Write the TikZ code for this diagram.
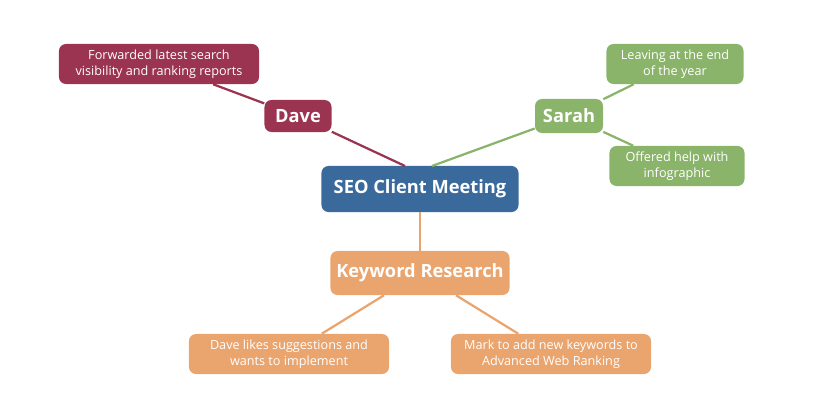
\documentclass[tikz,border=0pt]{standalone}
\usepackage{fontspec}
\setmainfont{Open Sans}
\usepackage{xcolor}
\definecolor{seoblue}{HTML}{3A6A9C}
\definecolor{davered}{HTML}{9B3450}
\definecolor{sarahgreen}{HTML}{8BB46B}
\definecolor{kworange}{HTML}{EAA46E}
\begin{document}
\begin{tikzpicture}[x=0.025cm,y=-0.025cm]
    \tikzset{
        topic/.style={rounded corners=5pt, text=white, font=\bfseries\fontsize{13}{15}\selectfont, inner sep=0pt},
        leaf/.style={rounded corners=5pt, text=white, font=\fontsize{9}{11}\selectfont, align=center, inner sep=0pt, minimum height=1cm},
        link/.style={line width=1.6pt}
    }
    \useasboundingbox (0,0) rectangle (840,420);

    % Topics
    \node[topic, fill=seoblue, minimum width=4.925cm, minimum height=1.15cm] (seo) at (420,189) {SEO Client Meeting};
    \node[topic, fill=davered, minimum width=1.675cm, minimum height=0.8cm] (dave) at (298,116) {Dave};
    \node[topic, fill=sarahgreen, minimum width=1.7cm, minimum height=0.85cm] (sarah) at (569,116) {Sarah};
    \node[topic, fill=kworange, minimum width=4.475cm, minimum height=1.1cm] (kw) at (420,273) {Keyword Research};

    % Leaves
    \node[leaf, fill=davered, minimum width=5cm] (fwd) at (159,64) {Forwarded latest search\\visibility and ranking reports};
    \node[leaf, fill=sarahgreen, minimum width=3.425cm] (leave) at (675,64) {Leaving at the end\\of the year};
    \node[leaf, fill=sarahgreen, minimum width=3.375cm] (help) at (677,166) {Offered help with\\infographic};
    \node[leaf, fill=kworange, minimum width=5cm] (likes) at (289,354) {Dave likes suggestions and\\wants to implement};
    \node[leaf, fill=kworange, minimum width=5cm] (mark) at (551,354) {Mark to add new keywords to\\Advanced Web Ranking};

    % Links
    \coordinate (seoL) at (405,166);
    \coordinate (seoR) at (432,166);
    \begin{scope}[on background layer/.style={}]
    \end{scope}
    \draw[link, davered] (fwd) -- (dave);
    \draw[link, davered] (dave) -- (seoL);
    \draw[link, sarahgreen] (sarah) -- (seoR);
    \draw[link, sarahgreen] (sarah) -- (leave);
    \draw[link, sarahgreen] (sarah) -- (help);
    \draw[link, kworange] (seo) -- (kw);
    \draw[link, kworange] (kw) -- (likes);
    \draw[link, kworange] (kw) -- (mark);
\end{tikzpicture}
\end{document}
